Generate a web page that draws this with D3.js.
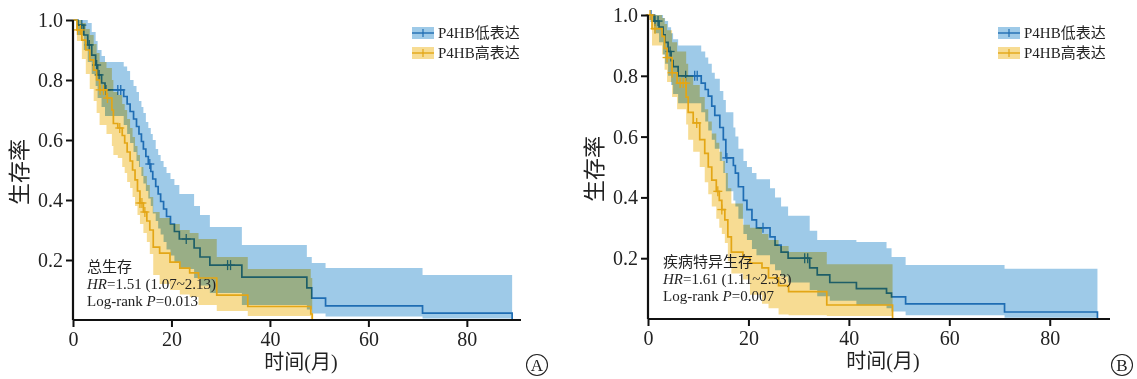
<!DOCTYPE html>
<html>
<head>
<meta charset="utf-8">
<script src="https://cdn.jsdelivr.net/npm/d3@7"></script>
<style>
    body{ margin:0; background:#fff; }
    svg text{ font-family:"Liberation Serif","Noto Sans CJK SC",serif; fill:#222; }
</style>
</head>
<body>
<svg id="chart" width="1137" height="379"></svg>
<script>
// ---- data (months, survival) ----
var xTicks = [0, 20, 40, 60, 80];
var yTicks = [0.2, 0.4, 0.6, 0.8, 1.0];
var groupNames = ["P4HB低表达", "P4HB高表达"];

// panel A, overall survival, low expression
var aLowT  = [0,1.0,2.2,3.0,3.8,4.6,5.0,5.8,6.5,10.3,11.0,11.6,12.3,12.9,13.4,13.9,14.3,14.8,15.3,15.8,16.2,16.8,17.3,17.8,18.4,19.0,19.8,20.6,21.6,24.6,25.8,27.8,34.3,47.5,48.5,51.3,71,89.2];
var aLowS  = [1,0.983,0.95,0.917,0.883,0.85,0.817,0.79,0.767,0.745,0.72,0.695,0.67,0.645,0.62,0.595,0.57,0.545,0.52,0.495,0.47,0.445,0.42,0.395,0.37,0.345,0.32,0.295,0.27,0.24,0.21,0.183,0.143,0.107,0.073,0.047,0.023,0];
var aLowHi = [1,1,1,0.99,0.96,0.93,0.9,0.88,0.86,0.845,0.83,0.8,0.78,0.76,0.73,0.71,0.69,0.66,0.64,0.62,0.6,0.57,0.55,0.53,0.51,0.49,0.47,0.45,0.42,0.38,0.35,0.31,0.25,0.21,0.19,0.173,0.15,0.15];
var aLowLo = [1,0.95,0.9,0.86,0.82,0.78,0.74,0.71,0.68,0.65,0.62,0.59,0.56,0.53,0.51,0.48,0.455,0.43,0.405,0.38,0.355,0.33,0.305,0.285,0.26,0.235,0.215,0.19,0.17,0.14,0.115,0.09,0.05,0.035,0.022,0.012,0.005,0.005];
var aLowCens = [1.8,3.3,4.8,5.3,6.7,9.1,9.7,15.6,23,31.4,32];

// panel A, high expression
var aHighT  = [0,0.8,1.8,2.6,3.4,4.2,4.8,5.4,6.8,7.9,8.2,9.1,10.0,10.5,11.0,11.6,12.1,12.6,13.1,13.6,14.3,15.0,15.6,16.3,17.6,19.7,21.7,23.7,25.5,29.2,35.5,48.3,48.6];
var aHighS  = [1,0.967,0.933,0.9,0.867,0.833,0.8,0.767,0.74,0.7,0.655,0.64,0.615,0.59,0.56,0.53,0.5,0.467,0.43,0.39,0.36,0.33,0.3,0.243,0.223,0.193,0.173,0.157,0.14,0.083,0.045,0.02,0];
var aHighHi = [1,1,0.99,0.97,0.95,0.92,0.89,0.86,0.84,0.8,0.76,0.75,0.72,0.7,0.67,0.64,0.61,0.58,0.55,0.51,0.48,0.45,0.41,0.36,0.34,0.32,0.3,0.29,0.27,0.21,0.17,0.14,0.14];
var aHighLo = [1,0.93,0.87,0.82,0.77,0.73,0.69,0.65,0.62,0.58,0.55,0.54,0.51,0.49,0.46,0.44,0.41,0.38,0.35,0.32,0.29,0.26,0.22,0.15,0.12,0.1,0.085,0.077,0.05,0.03,0.013,0.005,0.005];
var aHighCens = [0.9,1.5,5.5,6.2,7.0,9.5,13.6,14.0,14.6];

// panel B, disease specific survival, low expression
var bLowT  = [0,1.2,2.2,3.0,3.4,4.0,4.6,5.0,6.0,10.6,11.4,12.0,12.7,13.3,14.3,15.0,15.5,17.0,17.4,18.0,19.0,19.7,20.7,21.6,24.3,25.3,26.5,27.9,32.2,33.7,36.2,41.5,47.5,48.5,51.3,71,89.5];
var bLowS  = [1,0.98,0.96,0.935,0.91,0.88,0.85,0.83,0.8,0.776,0.755,0.733,0.7,0.67,0.63,0.59,0.53,0.505,0.48,0.435,0.39,0.36,0.326,0.3,0.27,0.243,0.22,0.2,0.168,0.145,0.12,0.1,0.085,0.073,0.05,0.023,0];
var bLowHi = [1,1,1,0.99,0.98,0.96,0.94,0.92,0.9,0.88,0.86,0.84,0.81,0.79,0.75,0.72,0.68,0.63,0.6,0.56,0.52,0.5,0.48,0.46,0.43,0.4,0.37,0.34,0.29,0.26,0.26,0.253,0.233,0.204,0.178,0.165,0.165];
var bLowLo = [1,0.94,0.91,0.87,0.84,0.8,0.77,0.74,0.71,0.68,0.65,0.62,0.59,0.56,0.52,0.48,0.42,0.39,0.37,0.33,0.28,0.26,0.23,0.21,0.18,0.16,0.14,0.12,0.095,0.075,0.06,0.045,0.035,0.025,0.012,0.004,0.004];
var bLowCens = [0.6,1.4,2.0,4.4,7.5,9.3,9.8,15.7,22.9,31.2,31.8];

// panel B, high expression
var bHighT  = [0,0.8,2.8,3.3,3.8,4.8,5.8,7.6,8.0,9.0,10.3,11.3,12.0,12.7,13.6,14.2,14.7,15.3,15.9,16.6,18.9,20.3,22.7,24.0,26.0,28.0,35.6,48.7];
var bHighS  = [1,0.955,0.93,0.89,0.86,0.81,0.776,0.73,0.68,0.645,0.59,0.545,0.5,0.457,0.42,0.39,0.36,0.326,0.27,0.22,0.204,0.184,0.168,0.135,0.11,0.09,0.046,0];
var bHighHi = [1,1,0.99,0.97,0.95,0.91,0.88,0.84,0.8,0.77,0.73,0.69,0.65,0.61,0.58,0.55,0.52,0.48,0.43,0.38,0.31,0.3,0.28,0.26,0.24,0.22,0.18,0.18];
var bHighLo = [1,0.9,0.87,0.82,0.78,0.73,0.69,0.64,0.59,0.55,0.5,0.45,0.41,0.37,0.33,0.3,0.28,0.25,0.19,0.15,0.13,0.08,0.05,0.035,0.015,0.012,0.01,0.01];
var bHighCens = [0.4,1.4,3.8,4.8,6.4,7.0,7.5,9.7,13.9,14.7];

var lowLine = "#1f6db3", lowBand = "#9ecae8";
var highLine = "#e3a616", highBand = "#f7dc93";

var svg = d3.select("#chart");

function zipSteps(T, S, Lo, Hi){
    return T.map(function(t, i){ return {t: t, s: S[i], lo: Lo[i], hi: Hi[i]}; });
}

function survAt(T, S, t){
    var i = d3.bisectRight(T, t) - 1;
    return S[Math.max(0, i)];
}

function drawGroup(g, x, y, T, S, Lo, Hi, cens, lineCol, bandCol, blend){
    var steps = zipSteps(T, S, Lo, Hi);
    var band = d3.area()
        .curve(d3.curveStepAfter)
        .x(function(d){ return x(d.t); })
        .y0(function(d){ return y(d.lo); })
        .y1(function(d){ return y(d.hi); });
    var line = d3.line()
        .curve(d3.curveStepAfter)
        .x(function(d){ return x(d.t); })
        .y(function(d){ return y(d.s); });

    g.append("path").datum(steps)
        .attr("d", band)
        .attr("fill", bandCol)
        .style("mix-blend-mode", blend ? "multiply" : null);
    g.append("path").datum(steps)
        .attr("d", line)
        .attr("fill", "none")
        .attr("stroke", lineCol)
        .attr("stroke-width", 1.7);

    var c = g.selectAll(null).data(cens).enter().append("g")
        .attr("transform", function(d){ return "translate(" + x(d) + "," + y(survAt(T, S, d)) + ")"; });
    c.append("line").attr("x1", -4.5).attr("x2", 4.5).attr("y1", 0).attr("y2", 0)
        .attr("stroke", lineCol).attr("stroke-width", 1.3);
    c.append("line").attr("x1", 0).attr("x2", 0).attr("y1", -5).attr("y2", 5)
        .attr("stroke", lineCol).attr("stroke-width", 1.3);
}

function drawPanel(cfg){
    var x = d3.scaleLinear().domain([0, cfg.xMax]).range([cfg.x0, cfg.x1]);
    var y = d3.scaleLinear().domain([0, 1]).range([cfg.y0, cfg.y1]);
    var g = svg.append("g").style("isolation", "isolate");

    drawGroup(g, x, y, cfg.low[0], cfg.low[1], cfg.low[2], cfg.low[3], cfg.low[4], lowLine, lowBand, false);
    drawGroup(g, x, y, cfg.high[0], cfg.high[1], cfg.high[2], cfg.high[3], cfg.high[4], highLine, highBand, true);

    var yAxis = g.append("g")
        .attr("transform", "translate(" + cfg.x0 + ",0)")
        .call(d3.axisLeft(y).tickValues(yTicks).tickFormat(d3.format(".1f")).tickSize(7).tickPadding(3));
    var xAxis = g.append("g")
        .attr("transform", "translate(0," + cfg.y0 + ")")
        .call(d3.axisBottom(x).tickValues(xTicks).tickSize(7).tickPadding(5));
    [xAxis, yAxis].forEach(function(a){
        a.attr("font-size", 20).attr("font-family", "Liberation Serif, serif");
        a.select(".domain").attr("stroke", "#111").attr("stroke-width", 2.2);
        a.selectAll(".tick line").attr("stroke", "#111").attr("stroke-width", 2);
        a.selectAll(".tick text").attr("fill", "#222");
    });
    yAxis.select(".domain").attr("d", "M0," + y(1) + "V" + cfg.y0);
    xAxis.select(".domain").attr("d", "M" + cfg.x0 + ",0H" + cfg.x1);

    // axis titles
    g.append("text")
        .attr("transform", "translate(" + (cfg.x0 - 46) + "," + ((cfg.y0 + cfg.y1) / 2 + 2) + ") rotate(-90)")
        .attr("text-anchor", "middle")
        .attr("font-size", 22)
        .text("生存率");
    g.append("text")
        .attr("x", (cfg.x0 + cfg.x1) / 2 + 4).attr("y", cfg.y0 + 49)
        .attr("text-anchor", "middle")
        .attr("font-size", 20)
        .text("时间(月)");

    // circled panel letter
    g.append("circle").attr("cx", cfg.letterX).attr("cy", 365).attr("r", 10.5)
        .attr("fill", "none").attr("stroke", "#222").attr("stroke-width", 1.1);
    g.append("text").attr("x", cfg.letterX).attr("y", 371)
        .attr("text-anchor", "middle").attr("font-size", 17).text(cfg.letter);

    // legend
    var lg = g.append("g").attr("transform", "translate(" + cfg.legX + ",27)");
    [[lowLine, lowBand], [highLine, highBand]].forEach(function(c, i){
        var row = lg.append("g").attr("transform", "translate(0," + (i * 20) + ")");
        row.append("rect").attr("width", 22).attr("height", 12).attr("fill", c[1]);
        row.append("line").attr("x1", 0).attr("x2", 22).attr("y1", 6).attr("y2", 6)
            .attr("stroke", c[0]).attr("stroke-width", 1.4);
        row.append("line").attr("x1", 11).attr("x2", 11).attr("y1", 2).attr("y2", 10)
            .attr("stroke", c[0]).attr("stroke-width", 1.2);
        row.append("text").attr("x", 26).attr("y", 11).attr("font-size", 15).text(groupNames[i]);
    });

    // statistics
    var st = g.append("g").attr("transform", "translate(" + cfg.statX + "," + cfg.statY + ")");
    st.append("text").attr("font-size", 15).text(cfg.title);
    var hr = st.append("text").attr("y", 17).attr("font-size", 15);
    hr.append("tspan").attr("font-style", "italic").text("HR");
    hr.append("tspan").text(cfg.hr);
    var lr = st.append("text").attr("y", 34).attr("font-size", 15);
    lr.append("tspan").text("Log-rank ");
    lr.append("tspan").attr("font-style", "italic").text("P");
    lr.append("tspan").text(cfg.p);
}

drawPanel({
    x0: 73, x1: 521, xMax: 91, y0: 320, y1: 20,
    low: [aLowT, aLowS, aLowLo, aLowHi, aLowCens],
    high: [aHighT, aHighS, aHighLo, aHighHi, aHighCens],
    legX: 412, statX: 87, statY: 272, letterX: 537, letter: "A",
    title: "总生存", hr: "=1.51 (1.07~2.13)", p: "=0.013"
});
drawPanel({
    x0: 648, x1: 1110, xMax: 92, y0: 319, y1: 15,
    low: [bLowT, bLowS, bLowLo, bLowHi, bLowCens],
    high: [bHighT, bHighS, bHighLo, bHighHi, bHighCens],
    legX: 998, statX: 663, statY: 267, letterX: 1122, letter: "B",
    title: "疾病特异生存", hr: "=1.61 (1.11~2.33)", p: "=0.007"
});
</script>
</body>
</html>
